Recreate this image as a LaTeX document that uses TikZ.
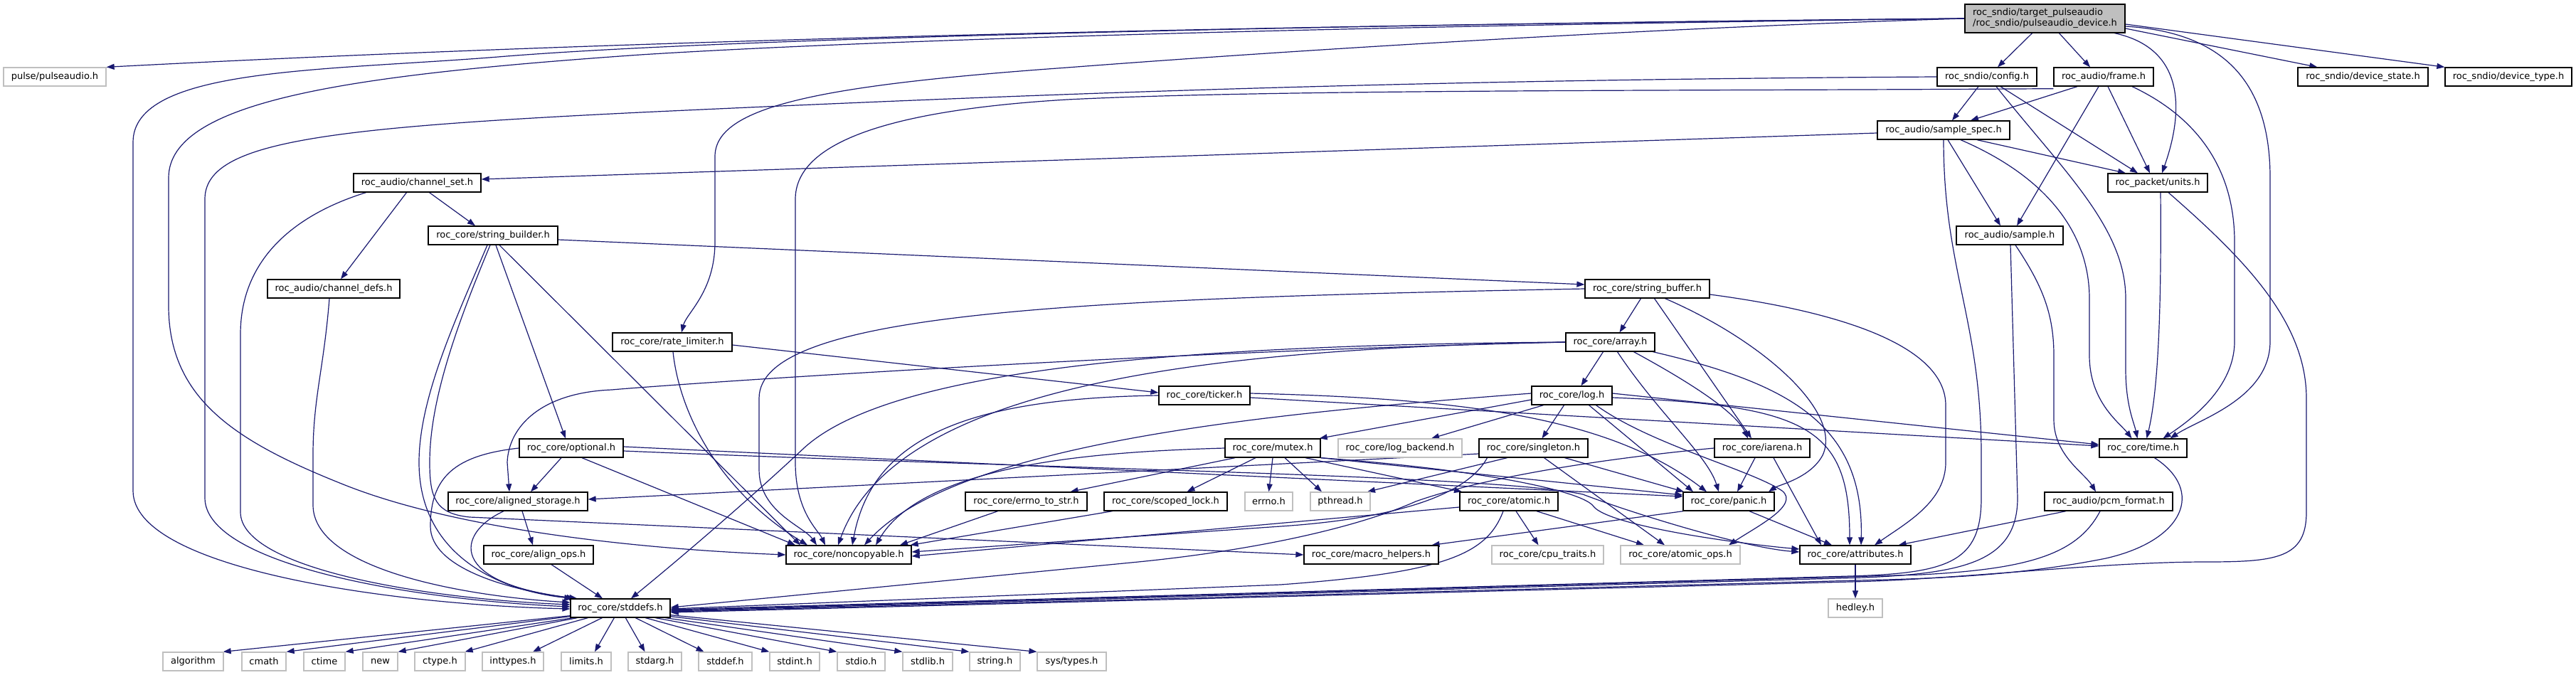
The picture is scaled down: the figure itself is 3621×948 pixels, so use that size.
\documentclass[tikz,border=0pt]{standalone}
\usepackage{fontspec}
\setmainfont{DejaVu Sans}
\usetikzlibrary{arrows.meta}
\pgfdeclarelayer{bg}
\pgfsetlayers{bg,main}
\definecolor{edgec}{HTML}{191970}
\definecolor{topfill}{HTML}{BFBFBF}
\definecolor{grayb}{HTML}{BFBFBF}
\tikzset{
  nd/.style={draw=black, line width=1.3pt, fill=white, minimum height=26pt, inner sep=0pt, text=black, font=\fontsize{13pt}{15pt}\selectfont},
  gn/.style={nd, draw=grayb},
  conn/.style={draw=edgec, line width=1.2pt, -{Triangle[length=11pt,width=8pt]}},
}
\begin{document}
\begin{tikzpicture}[x=1pt,y=-1pt]
\useasboundingbox (0,0) rectangle (3621,948);
% ---------------- nodes
\node[nd, fill=topfill, minimum width=225pt, minimum height=40pt, align=left] (top) at (2874.5,26) {roc\_sndio/target\_pulseaudio\\/roc\_sndio/pulseaudio\_device.h};
\node[gn, minimum width=144pt] (pulse) at (77,108) {pulse/pulseaudio.h};
\node[nd, minimum width=140pt] (config) at (2793,108) {roc\_sndio/config.h};
\node[nd, minimum width=140pt] (frame) at (2957,108) {roc\_audio/frame.h};
\node[nd, minimum width=183pt] (dstate) at (3321.5,108) {roc\_sndio/device\_state.h};
\node[nd, minimum width=178pt] (dtype) at (3526,108) {roc\_sndio/device\_type.h};
\node[nd, minimum width=186pt] (sspec) at (2732,183) {roc\_audio/sample\_spec.h};
\node[nd, minimum width=179pt] (chset) at (586.5,257) {roc\_audio/channel\_set.h};
\node[nd, minimum width=140pt] (units) at (3033,257) {roc\_packet/units.h};
\node[nd, minimum width=182pt] (sbuilder) at (693,331) {roc\_core/string\_builder.h};
\node[nd, minimum width=150pt] (sample) at (2825,331) {roc\_audio/sample.h};
\node[nd, minimum width=186pt] (chdefs) at (469,406) {roc\_audio/channel\_defs.h};
\node[nd, minimum width=175pt] (sbuffer) at (2315.5,406) {roc\_core/string\_buffer.h};
\node[nd, minimum width=168pt] (ratelim) at (945,481) {roc\_core/rate\_limiter.h};
\node[nd, minimum width=125pt] (array) at (2263.5,481) {roc\_core/array.h};
\node[nd, minimum width=128pt] (ticker) at (1693,556) {roc\_core/ticker.h};
\node[nd, minimum width=113pt] (log) at (2209.5,556) {roc\_core/log.h};
\node[nd, minimum width=146pt] (optional) at (803,630) {roc\_core/optional.h};
\node[nd, minimum width=134pt] (mutex) at (1789,630) {roc\_core/mutex.h};
\node[gn, minimum width=174pt] (logbackend) at (1968,630) {roc\_core/log\_backend.h};
\node[nd, minimum width=153pt] (singleton) at (2155.5,630) {roc\_core/singleton.h};
\node[nd, minimum width=134pt] (iarena) at (2477,630) {roc\_core/iarena.h};
\node[nd, minimum width=123pt] (time) at (3012.5,630) {roc\_core/time.h};
\node[nd, minimum width=196pt] (aligned) at (728,705) {roc\_core/aligned\_storage.h};
\node[nd, minimum width=171pt] (errnostr) at (1442.5,705) {roc\_core/errno\_to\_str.h};
\node[nd, minimum width=173pt] (scoped) at (1638.5,705) {roc\_core/scoped\_lock.h};
\node[gn, minimum width=67pt] (errno) at (1783.5,705) {errno.h};
\node[gn, minimum width=84pt] (pthread) at (1884,705) {pthread.h};
\node[nd, minimum width=138pt] (atomic) at (2121,705) {roc\_core/atomic.h};
\node[nd, minimum width=128pt] (panic) at (2430,705) {roc\_core/panic.h};
\node[nd, minimum width=180pt] (pcm) at (2964,705) {roc\_audio/pcm\_format.h};
\node[nd, minimum width=154pt] (alignops) at (757,780) {roc\_core/align\_ops.h};
\node[nd, minimum width=176pt] (noncopy) at (1193,780) {roc\_core/noncopyable.h};
\node[nd, minimum width=189pt] (macro) at (1927.5,780) {roc\_core/macro\_helpers.h};
\node[gn, minimum width=157pt] (cputraits) at (2175.5,780) {roc\_core/cpu\_traits.h};
\node[gn, minimum width=168pt] (atomicops) at (2362,780) {roc\_core/atomic\_ops.h};
\node[nd, minimum width=156pt] (attrs) at (2608,780) {roc\_core/attributes.h};
\node[nd, minimum width=140pt] (stddefs) at (872,855) {roc\_core/stddefs.h};
\node[gn, minimum width=76pt] (hedley) at (2608,855) {hedley.h};
\node[gn, minimum width=85pt] (algorithm) at (271.5,930) {algorithm};
\node[gn, minimum width=62pt] (cmath) at (371,930) {cmath};
\node[gn, minimum width=58pt] (ctime) at (456,930) {ctime};
\node[gn, minimum width=49pt] (new) at (534.5,930) {new};
\node[gn, minimum width=71pt] (ctypeh) at (618.5,930) {ctype.h};
\node[gn, minimum width=86pt] (inttypes) at (721,930) {inttypes.h};
\node[gn, minimum width=70pt] (limits) at (824,930) {limits.h};
\node[gn, minimum width=75pt] (stdarg) at (920.5,930) {stdarg.h};
\node[gn, minimum width=75pt] (stddef) at (1019.5,930) {stddef.h};
\node[gn, minimum width=70pt] (stdint) at (1117,930) {stdint.h};
\node[gn, minimum width=67pt] (stdio) at (1210.5,930) {stdio.h};
\node[gn, minimum width=70pt] (stdlib) at (1304,930) {stdlib.h};
\node[gn, minimum width=71pt] (stringh) at (1398.5,930) {string.h};
\node[gn, minimum width=97pt] (systypes) at (1506.5,930) {sys/types.h};
% ---------------- edges
\begin{pgfonlayer}{bg}
\fill[white] (0,0) rectangle (3621,948);
% top
\draw[conn] (top.west) .. controls (1800,35) and (900,55) .. (pulse.north east);
\draw[conn] (top.west) .. controls (1800,35) and (1000,55) .. (700,80) .. controls (450,100) and (187,95) .. (187,200) -- (187,690) .. controls (187,800) and (550,850) .. ([yshift=-1pt]stddefs.west);
\draw[conn] (top.west) .. controls (1800,38) and (1200,58) .. (900,77) .. controls (500,105) and (237,140) .. (237,250) -- (237,430) .. controls (237,560) and (330,620) .. (480,680) .. controls (640,745) and (900,772) .. (noncopy.west);
\draw[conn] (top.west) .. controls (2300,40) and (1800,72) .. (1500,95) .. controls (1150,120) and (1005,150) .. (1005,220) -- (1005,340) .. controls (1005,410) and (965,440) .. ([xshift=13pt]ratelim.north);
\draw[conn] ([xshift=-18pt]top.south) -- ([xshift=15pt]config.north);
\draw[conn] ([xshift=20pt]top.south) -- ([xshift=-19pt]frame.north);
\draw[conn] ([yshift=-14pt]top.east) -- ([xshift=28pt]dstate.north west);
\draw[conn] ([yshift=-8pt]top.east) -- (dtype.north west);
\draw[conn] ([xshift=98pt]top.south) .. controls (3080,70) and (3065,170) .. ([xshift=6pt]units.north);
\draw[conn] ([yshift=-11pt]top.east) .. controls (3120,45) and (3191,110) .. (3191,250) -- (3191,480) .. controls (3191,560) and (3090,590) .. ([xshift=38pt]time.north);
% config
\draw[conn] ([xshift=-12pt]config.south) -- ([xshift=12pt]sspec.north);
\draw[conn] ([xshift=19pt]config.south) -- ([xshift=-28pt]units.north);
\draw[conn] ([xshift=13pt]config.south) .. controls (2900,240) and (2988,320) .. (2988,420) -- (2988,520) .. controls (2988,570) and (3000,595) .. ([xshift=-8pt]time.north);
\draw[conn] (config.west) .. controls (2000,112) and (1500,130) .. (900,158) .. controls (450,180) and (288,200) .. (288,280) -- (288,700) .. controls (288,790) and (560,842) .. ([yshift=2pt]stddefs.west);
% frame
\draw[conn] ([xshift=-37pt]frame.south) -- ([xshift=38pt]sspec.north);
\draw[conn] ([xshift=-7pt]frame.south) -- ([xshift=10pt]sample.north);
\draw[conn] ([xshift=6pt]frame.south) -- ([xshift=-11pt]units.north);
\draw[conn] ([xshift=40pt]frame.south) .. controls (3100,170) and (3141,250) .. (3141,340) -- (3141,480) .. controls (3141,545) and (3080,590) .. ([xshift=28pt]time.north);
\draw[conn] ([yshift=-3pt]frame.south west) .. controls (2400,128) and (1800,125) .. (1500,140) .. controls (1250,155) and (1118,200) .. (1118,280) -- (1118,650) .. controls (1118,720) and (1150,745) .. ([xshift=-33pt]noncopy.north);
% sample_spec
\draw[conn] ([yshift=-4pt]sspec.west) -- ([yshift=5pt]chset.east);
\draw[conn] ([xshift=6pt]sspec.south) -- ([xshift=-13pt]sample.north);
\draw[conn] ([xshift=47pt]sspec.south) -- ([xshift=-45pt]units.north);
\draw[conn] ([xshift=24pt]sspec.south) .. controls (2880,250) and (2937,330) .. (2937,420) -- (2937,500) .. controls (2937,565) and (2980,595) .. ([xshift=-16pt]time.north);
\draw[conn] (sspec.south) .. controls (2732,380) and (2785,450) .. (2785,640) -- (2785,700) .. controls (2785,790) and (2740,806) .. (2600,810) -- ([yshift=-2pt]stddefs.east);
% channel_set, channel_defs
\draw[conn] ([xshift=-15pt]chset.south) -- ([xshift=10pt]chdefs.north);
\draw[conn] ([xshift=17pt]chset.south) -- ([xshift=-25pt]sbuilder.north);
\draw[conn] ([xshift=-72pt]chset.south) .. controls (420,300) and (338,360) .. (338,470) -- (338,720) .. controls (338,800) and (600,842) .. ([yshift=5pt]stddefs.west);
\draw[conn] ([xshift=-6pt]chdefs.south) .. controls (455,520) and (440,560) .. (440,640) -- (440,710) .. controls (440,800) and (650,838) .. ([yshift=8pt]stddefs.west);
% string_builder
\draw[conn] ([yshift=-6pt]sbuilder.east) -- ([yshift=6pt]sbuffer.west);
\draw[conn] ([xshift=4pt]sbuilder.south) -- ([xshift=-8pt]optional.north);
\draw[conn] ([xshift=9pt]sbuilder.south) -- ([xshift=-68pt]noncopy.north);
\draw[conn] ([xshift=-8pt]sbuilder.south) .. controls (640,450) and (589,560) .. (589,650) .. controls (589,780) and (700,830) .. ([xshift=3pt]stddefs.north west);
\draw[conn] ([xshift=-4pt]sbuilder.south) .. controls (645,450) and (604,560) .. (604,650) .. controls (604,700) and (612,722) .. (660,727) -- (macro.west);
% rate_limiter, ticker
\draw[conn] ([yshift=-4pt]ratelim.east) -- ([yshift=4pt]ticker.west);
\draw[conn] ([xshift=1pt]ratelim.south) .. controls (955,580) and (1010,690) .. ([xshift=-58pt]noncopy.north);
\draw[conn] ([yshift=-3pt]ticker.east) -- ([yshift=3pt]time.west);
\draw[conn] ([yshift=3pt]ticker.east) .. controls (2050,560) and (2260,585) .. ([xshift=-31pt]panic.north);
\draw[conn] (ticker.west) .. controls (1350,560) and (1225,620) .. ([xshift=5pt]noncopy.north);
% log
\draw[conn] ([yshift=3pt]log.east) -- ([yshift=5pt]time.west);
\draw[conn] ([yshift=-3pt]log.east) .. controls (2540,570) and (2600,600) .. ([xshift=-8pt]attrs.north);
\draw[conn] ([yshift=-6pt]log.west) -- ([xshift=-2pt]mutex.north east);
\draw[conn] ([xshift=-40pt]log.south) -- ([xshift=44pt]logbackend.north);
\draw[conn] ([xshift=-11pt]log.south) -- ([xshift=12pt]singleton.north);
\draw[conn] ([xshift=24pt]log.south) -- ([xshift=-50pt]panic.north);
\draw[conn] ([xshift=34pt]log.south) .. controls (2320,625) and (2460,660) .. (2505,690) .. controls (2530,710) and (2470,740) .. ([xshift=68pt]atomicops.north);
\draw[conn] ([yshift=3pt]log.west) .. controls (1800,580) and (1350,620) .. ([xshift=22pt]noncopy.north);
% mutex
\draw[conn] ([xshift=-53pt]mutex.south) -- ([xshift=62pt]errnostr.north);
\draw[conn] ([xshift=-24pt]mutex.south) -- ([xshift=30pt]scoped.north);
\draw[conn] (mutex.south) -- (errno.north);
\draw[conn] ([xshift=17pt]mutex.south) -- ([xshift=-26pt]pthread.north);
\draw[conn] ([xshift=46pt]mutex.south) -- ([xshift=-66pt]atomic.north);
\draw[conn] (mutex.south east) -- ([yshift=9pt]panic.west);
\draw[conn] (mutex.south east) .. controls (2080,660) and (2225,690) .. (2240,712) .. controls (2262,740) and (2450,765) .. ([yshift=8pt]attrs.west);
\draw[conn] (mutex.west) .. controls (1550,635) and (1300,650) .. ([xshift=38pt]noncopy.north);
% singleton
\draw[conn] ([xshift=-37pt]singleton.south) -- ([xshift=38pt]pthread.north);
\draw[conn] ([xshift=15pt]singleton.south) -- ([xshift=-22pt]atomicops.north);
\draw[conn] ([xshift=44pt]singleton.south) -- ([xshift=-63pt]panic.north);
\draw[conn] ([yshift=-8pt]singleton.west) -- ([yshift=3pt]aligned.east);
\draw[conn] ([xshift=-65pt]singleton.south) .. controls (2060,700) and (1950,730) .. (1800,740) -- ([yshift=4pt]noncopy.east);
% iarena
\draw[conn] ([xshift=-10pt]iarena.south) -- ([xshift=12pt]panic.north);
\draw[conn] ([xshift=16pt]iarena.south) -- ([xshift=-48pt]attrs.north);
\draw[conn] (iarena.west) .. controls (2200,650) and (2060,680) .. (1990,705) .. controls (1900,745) and (1750,775) .. (1600,790) -- ([yshift=1pt]stddefs.east);
% array
\draw[conn] ([xshift=-10pt]array.south) -- ([xshift=13pt]log.north);
\draw[conn] ([xshift=10pt]array.south) .. controls (2330,580) and (2400,640) .. ([xshift=-14pt]panic.north);
\draw[conn] ([xshift=33pt]array.south) .. controls (2380,540) and (2440,580) .. ([xshift=-20pt]iarena.north);
\draw[conn] ([xshift=60pt]array.south) .. controls (2520,540) and (2620,600) .. ([xshift=8pt]attrs.north);
\draw[conn] (array.west) .. controls (1600,495) and (950,540) .. (860,548) .. controls (760,552) and (715,600) .. (713,650) -- ([xshift=-12pt]aligned.north);
\draw[conn] (array.west) .. controls (1700,490) and (1260,540) .. ([xshift=-15pt]noncopy.north);
\draw[conn] (array.west) .. controls (1650,485) and (1250,520) .. (1130,630) .. controls (1050,705) and (950,790) .. ([xshift=15pt]stddefs.north);
% string_buffer
\draw[conn] ([xshift=-9pt]sbuffer.south) -- ([xshift=13pt]array.north);
\draw[conn] ([xshift=10pt]sbuffer.south) -- ([xshift=-15pt]iarena.north);
\draw[conn] ([xshift=25pt]sbuffer.south) .. controls (2480,480) and (2590,580) .. (2562,640) .. controls (2545,672) and (2500,682) .. ([xshift=56pt]panic.north);
\draw[conn] ([yshift=-8pt]sbuffer.east) .. controls (2600,440) and (2735,490) .. (2735,570) -- (2735,650) .. controls (2735,705) and (2680,735) .. ([xshift=27pt]attrs.north);
\draw[conn] (sbuffer.west) .. controls (1500,420) and (1067,440) .. (1067,560) -- (1067,660) .. controls (1067,720) and (1130,740) .. ([xshift=-45pt]noncopy.north);
% sample, pcm, units, time
\draw[conn] ([xshift=8pt]sample.south) .. controls (2870,400) and (2887,440) .. (2887,500) -- (2887,590) .. controls (2887,640) and (2930,665) .. ([xshift=-18pt]pcm.north);
\draw[conn] ([xshift=1pt]sample.south) -- (2836,700) .. controls (2836,790) and (2760,806) .. (2620,812) -- ([yshift=-4pt]stddefs.east);
\draw[conn] ([xshift=-60pt]pcm.south) -- ([xshift=-18pt]attrs.north east);
\draw[conn] ([xshift=-12pt]pcm.south) .. controls (2920,780) and (2850,800) .. (2700,808) -- ([yshift=-3pt]stddefs.east);
\draw[conn] ([xshift=4pt]units.south) .. controls (3038,400) and (3036,540) .. ([xshift=5pt]time.north);
\draw[conn] ([xshift=15pt]units.south) .. controls (3150,360) and (3242,450) .. (3242,560) -- (3242,720) .. controls (3242,785) and (3200,790) .. (3100,790) .. controls (2950,790) and (2750,815) .. (2600,818) -- ([yshift=-6pt]stddefs.east);
\draw[conn] ([xshift=16pt]time.south) .. controls (3100,690) and (3070,760) .. (2960,785) .. controls (2860,805) and (2760,812) .. (2650,815) -- ([yshift=-5pt]stddefs.east);
% misc core
\draw[conn] ([xshift=-40pt]errnostr.south) -- ([xshift=72pt]noncopy.north);
\draw[conn] ([xshift=-75pt]scoped.south) -- ([xshift=-2pt]noncopy.north east);
\draw[conn] ([xshift=6pt]aligned.south) -- ([xshift=-8pt]alignops.north);
\draw[conn] ([xshift=-20pt]aligned.south) .. controls (640,750) and (630,820) .. ([xshift=10pt]stddefs.north west);
\draw[conn] ([xshift=18pt]alignops.south) -- ([xshift=-25pt]stddefs.north);
\draw[conn] ([xshift=-14pt]optional.south) -- ([xshift=18pt]aligned.north);
\draw[conn] (optional.west) .. controls (640,640) and (605,670) .. (605,740) .. controls (605,800) and (720,830) .. ([xshift=6pt]stddefs.north west);
\draw[conn] ([xshift=15pt]optional.south) -- ([xshift=-75pt]noncopy.north);
\draw[conn] ([yshift=2pt]optional.east) -- ([yshift=7pt]panic.west);
\draw[conn] ([yshift=-4pt]optional.east) .. controls (1500,660) and (2100,668) .. (2225,695) .. controls (2290,720) and (2450,770) .. ([yshift=4pt]attrs.west);
\draw[conn] ([xshift=10pt]atomic.south) -- ([xshift=-13pt]cputraits.north);
\draw[conn] ([xshift=39pt]atomic.south) -- ([xshift=-51pt]atomicops.north);
\draw[conn] ([yshift=-8pt]atomic.west) -- ([yshift=-2pt]noncopy.east);
\draw[conn] ([xshift=-8pt]atomic.south) .. controls (2090,780) and (2030,805) .. (1800,822) -- ([yshift=-1pt]stddefs.east);
\draw[conn] ([xshift=-64pt]panic.south) -- ([xshift=85pt]macro.north);
\draw[conn] ([xshift=29pt]panic.south) -- ([xshift=-33pt]attrs.north);
\draw[conn] (attrs.south) -- (hedley.north);
% stddefs -> system headers
\draw[conn] ([yshift=3pt]stddefs.south west) -- ([xshift=-1pt]algorithm.north east);
\draw[conn] ([yshift=2pt]stddefs.south west) -- (cmath.north east);
\draw[conn] ([xshift=4pt]stddefs.south west) -- (ctime.north east);
\draw[conn] ([xshift=10pt]stddefs.south west) -- (new.north east);
\draw[conn] ([xshift=25pt]stddefs.south west) -- ([xshift=-1pt]ctypeh.north east);
\draw[conn] ([xshift=45pt]stddefs.south west) -- ([xshift=28pt]inttypes.north);
\draw[conn] ([xshift=62pt]stddefs.south west) -- ([xshift=12pt]limits.north);
\draw[conn] ([xshift=78pt]stddefs.south west) -- ([xshift=-14pt]stdarg.north);
\draw[conn] ([xshift=92pt]stddefs.south west) -- ([xshift=-30pt]stddef.north);
\draw[conn] ([xshift=106pt]stddefs.south west) -- (stdint.north west);
\draw[conn] ([xshift=120pt]stddefs.south west) -- (stdio.north west);
\draw[conn] ([xshift=134pt]stddefs.south west) -- (stdlib.north west);
\draw[conn] ([yshift=2pt]stddefs.south east) -- (stringh.north west);
\draw[conn] ([yshift=4pt]stddefs.south east) -- (systypes.north west);
\end{pgfonlayer}
\end{tikzpicture}
\end{document}
